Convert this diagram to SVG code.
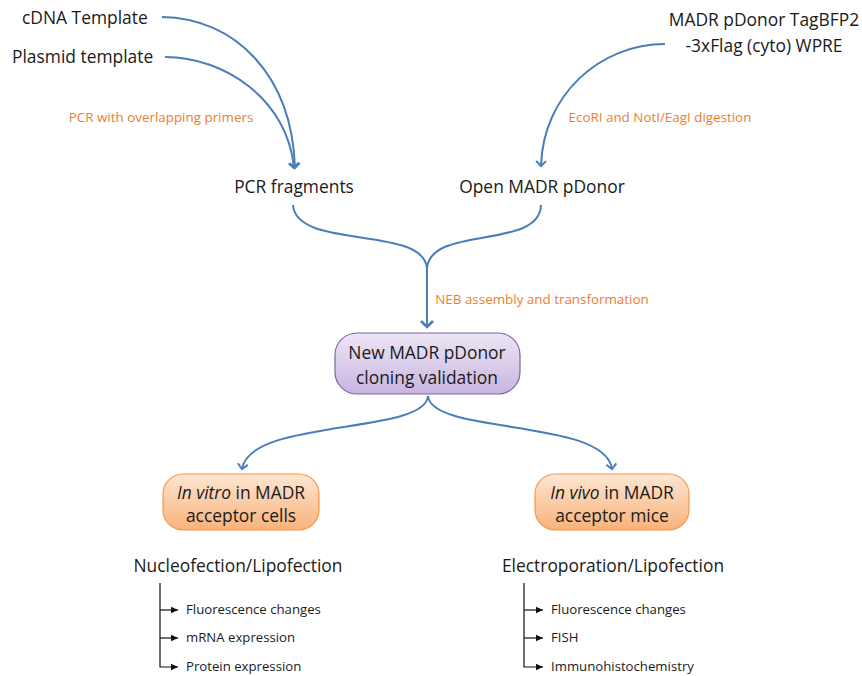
<svg xmlns="http://www.w3.org/2000/svg" width="862" height="676" viewBox="0 0 862 676">
<defs>
<style>
.t{font-family:"Open Sans","Liberation Sans",sans-serif;fill:#1a1a1a;font-size:17.4px}
.o{font-family:"Open Sans","Liberation Sans",sans-serif;fill:#ED7D31;font-size:13.4px}
.s{font-family:"Open Sans","Liberation Sans",sans-serif;fill:#1a1a1a;font-size:13.2px}
.c{fill:none;stroke:#4A7EBB;stroke-width:2}
.b{fill:none;stroke:#111;stroke-width:1.2}
</style>
<marker id="ah" markerWidth="12" markerHeight="12" refX="6" refY="6" orient="auto" markerUnits="userSpaceOnUse">
<path d="M1,1 L6,6 L1,11" fill="none" stroke="#4A7EBB" stroke-width="2"/>
</marker>
<marker id="ah2" markerWidth="14" markerHeight="14" refX="7" refY="7" orient="auto" markerUnits="userSpaceOnUse">
<path d="M1,1 L7,7 L1,13" fill="none" stroke="#4A7EBB" stroke-width="2.6"/>
</marker>
<marker id="sa" markerWidth="8" markerHeight="8" refX="7" refY="4" orient="auto" markerUnits="userSpaceOnUse">
<path d="M0,0.8 L7,4 L0,7.2 Z" fill="#111"/>
</marker>
<linearGradient id="gp" x1="0" y1="0" x2="0" y2="1">
<stop offset="0" stop-color="#EDE6F5"/>
<stop offset="1" stop-color="#C8B5E0"/>
</linearGradient>
<linearGradient id="go" x1="0" y1="0" x2="0" y2="1">
<stop offset="0" stop-color="#FDE6D3"/>
<stop offset="1" stop-color="#F9B27A"/>
</linearGradient>
</defs>
<rect width="862" height="676" fill="#fff"/>
<g id="connectors">
<path class="c" d="M162,17 C235,18 292,75 295,168" marker-end="url(#ah)"/>
<path class="c" d="M165,57 C225,57 288,100 294,168" marker-end="url(#ah)"/>
<path class="c" d="M665,44 C600,44 543,95 541,166" marker-end="url(#ah)"/>
<path class="c" d="M293,205 C296,250 423,225 427,268"/>
<path class="c" d="M541,205 C540,250 431,225 427,268"/>
<path class="c" d="M427,266 L427,327" stroke-width="3" marker-end="url(#ah2)"/>
<path class="c" d="M428,396 C425,435 250,418 242,469" marker-end="url(#ah)"/>
<path class="c" d="M428,396 C432,435 605,418 612,469" marker-end="url(#ah)"/>
<path class="b" d="M160,583 V667 H178" marker-end="url(#sa)"/>
<path class="b" d="M160,610 H178" marker-end="url(#sa)"/>
<path class="b" d="M160,638 H178" marker-end="url(#sa)"/>
<path class="b" d="M524,583 V667 H543" marker-end="url(#sa)"/>
<path class="b" d="M524,610 H543" marker-end="url(#sa)"/>
<path class="b" d="M524,638 H543" marker-end="url(#sa)"/>
</g>
<g id="cdna"><text class="t" x="22" y="24">cDNA Template</text></g>
<g id="plasmid"><text class="t" x="12" y="63">Plasmid template</text></g>
<g id="lbl-pcr"><text class="o" x="161" y="122" text-anchor="middle">PCR with overlapping primers</text></g>
<g id="pdonor-src"><text class="t" x="764" y="26" text-anchor="middle">MADR pDonor TagBFP2</text><text class="t" x="764" y="52" text-anchor="middle">-3xFlag (cyto) WPRE</text></g>
<g id="lbl-eco"><text class="o" x="660" y="122" text-anchor="middle">EcoRI and NotI/EagI digestion</text></g>
<g id="pcr-frag"><text class="t" x="294" y="193" text-anchor="middle">PCR fragments</text></g>
<g id="open-pdonor"><text class="t" x="542" y="193" text-anchor="middle">Open MADR pDonor</text></g>
<g id="lbl-neb"><text class="o" x="542" y="304" text-anchor="middle">NEB assembly and transformation</text></g>
<g id="new-pdonor">
<rect x="335" y="333" width="185" height="61" rx="22" fill="url(#gp)" stroke="#8064A2" stroke-width="1.2"/>
<text class="t" x="427" y="359" text-anchor="middle">New MADR pDonor</text>
<text class="t" x="427" y="384" text-anchor="middle">cloning validation</text>
</g>
<g id="in-vitro">
<rect x="163" y="474" width="156" height="56" rx="20" fill="url(#go)" stroke="#F79646" stroke-width="1.2"/>
<text class="t" x="241" y="499" text-anchor="middle"><tspan font-style="italic">In vitro</tspan> in MADR</text>
<text class="t" x="241" y="522" text-anchor="middle">acceptor cells</text>
</g>
<g id="in-vivo">
<rect x="535" y="474" width="154" height="56" rx="20" fill="url(#go)" stroke="#F79646" stroke-width="1.2"/>
<text class="t" x="612" y="499" text-anchor="middle"><tspan font-style="italic">In vivo</tspan> in MADR</text>
<text class="t" x="612" y="522" text-anchor="middle">acceptor mice</text>
</g>
<g id="nucleo">
<text class="t" x="238" y="572" text-anchor="middle">Nucleofection/Lipofection</text>
<text class="s" x="186" y="614">Fluorescence changes</text>
<text class="s" x="186" y="642">mRNA expression</text>
<text class="s" x="186" y="671">Protein expression</text>
</g>
<g id="electro">
<text class="t" x="613" y="572" text-anchor="middle">Electroporation/Lipofection</text>
<text class="s" x="551" y="614">Fluorescence changes</text>
<text class="s" x="551" y="642">FISH</text>
<text class="s" x="551" y="671">Immunohistochemistry</text>
</g>
</svg>
